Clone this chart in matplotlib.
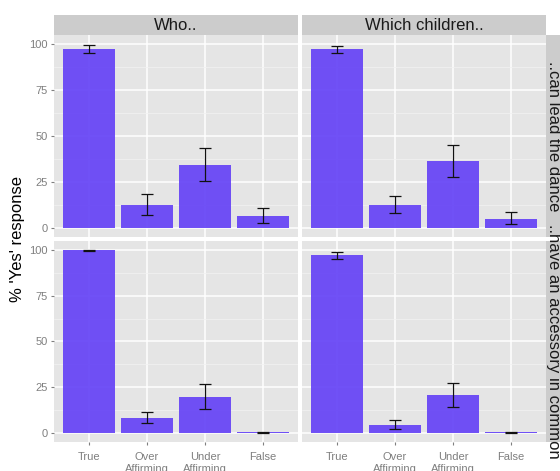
import matplotlib
matplotlib.use("Agg")
import matplotlib.pyplot as plt
import numpy as np

plt.rcParams['font.family'] = ['Liberation Sans', 'DejaVu Sans']

categories = ["True", "Over\nAffirming", "Under\nAffirming", "False"]
col_labels = ["Who..", "Which children.."]
row_labels = ["..can lead the dance", "..have an accessory in common"]

# values[row][col]
means = {
    (0, 0): [97.1, 12.5, 34.4, 6.5],
    (0, 1): [97.1, 12.5, 36.6, 4.9],
    (1, 0): [99.8, 8.0, 19.6, 0.4],
    (1, 1): [97.1, 4.4, 20.7, 0.4],
}
lower = {
    (0, 0): [95.3, 6.9, 25.6, 2.4],
    (0, 1): [95.3, 7.8, 27.8, 2.0],
    (1, 0): [99.6, 5.5, 13.1, 0.0],
    (1, 1): [95.3, 2.0, 14.2, 0.0],
}
upper = {
    (0, 0): [99.3, 18.4, 43.3, 10.9],
    (0, 1): [99.1, 17.1, 45.3, 8.4],
    (1, 0): [100.0, 11.6, 26.6, 0.4],
    (1, 1): [99.1, 7.1, 27.3, 0.4],
}
yticks = [0, 25, 50, 75, 100]

W, H = 560, 471
fig = plt.figure(figsize=(W / 100, H / 100), dpi=100)

col_x = [(54, 298), (302, 546)]
row_y = [(35, 237), (241, 442)]

def fr(x0, y0, x1, y1):
    return [x0 / W, 1 - y1 / H, (x1 - x0) / W, (y1 - y0) / H]

bar_color = '#6644F6'
bg = '#E5E5E5'
strip = '#CCCCCC'
tickgrey = '#7F7F7F'

x = np.arange(len(categories))
for r in range(2):
    for c in range(2):
        x0, x1 = col_x[c]
        y0, y1 = row_y[r]
        ax = fig.add_axes(fr(x0, y0, x1, y1))
        ax.set_facecolor(bg)
        for s in ax.spines.values():
            s.set_visible(False)
        ax.set_xlim(-0.6, 3.6)
        ax.set_ylim(-5.0, 104.9)
        ax.set_yticks(yticks)
        ax.set_yticks([12.5, 37.5, 62.5, 87.5], minor=True)
        ax.set_xticks(x)
        ax.grid(True, which='major', color='white', linewidth=1.1)
        ax.grid(True, which='minor', axis='y', color='#F2F2F2', linewidth=0.5)
        ax.set_axisbelow(True)
        m = np.array(means[(r, c)])
        lo = np.array(lower[(r, c)])
        hi = np.array(upper[(r, c)])
        ax.bar(x, m, width=0.9, color=bar_color, alpha=0.93, zorder=2)
        yerr = np.clip(np.vstack([m - lo, hi - m]), 0, None)
        ax.errorbar(x, m, yerr=yerr, fmt='none', ecolor='#111111',
                    elinewidth=0.9, capsize=4.2, capthick=0.9, zorder=3)
        ax.tick_params(which='minor', length=0)
        ax.tick_params(which='major', length=2.5, color=tickgrey, width=0.8,
                       labelcolor=tickgrey, labelsize=8, pad=2)
        ax.tick_params(axis='x', which='major', pad=5)
        if c == 0:
            ax.set_yticklabels([str(t) for t in yticks])
        else:
            ax.tick_params(axis='y', which='major', length=0, labelleft=False)
        if r == 1:
            ax.set_xticklabels(categories, linespacing=1.2)
        else:
            ax.tick_params(axis='x', which='major', length=0, labelbottom=False)

# top strips
for c in range(2):
    x0, x1 = col_x[c]
    sax = fig.add_axes(fr(x0, 15, x1, 35))
    sax.set_facecolor(strip)
    sax.set_xticks([]); sax.set_yticks([])
    for s in sax.spines.values():
        s.set_visible(False)
    sax.text(0.5, 0.45, col_labels[c], ha='center', va='center', fontsize=12,
             color='#1A1A1A', transform=sax.transAxes)

# right strips
for r in range(2):
    y0, y1 = row_y[r]
    sax = fig.add_axes(fr(546, y0, 566, y1))
    sax.set_facecolor(strip)
    sax.set_xticks([]); sax.set_yticks([])
    for s in sax.spines.values():
        s.set_visible(False)
    sax.text(549 / W, 1 - ((y0 + y1) / 2) / H, row_labels[r], ha='center',
             va='baseline', rotation_mode='anchor', fontsize=12,
             rotation=-90, color='#1A1A1A', transform=fig.transFigure)

fig.text(18 / W, 1 - 239 / H, "% 'Yes' response", rotation=90, ha='center',
         va='center', fontsize=12, color='black')

fig.savefig('out.png', dpi=100)
